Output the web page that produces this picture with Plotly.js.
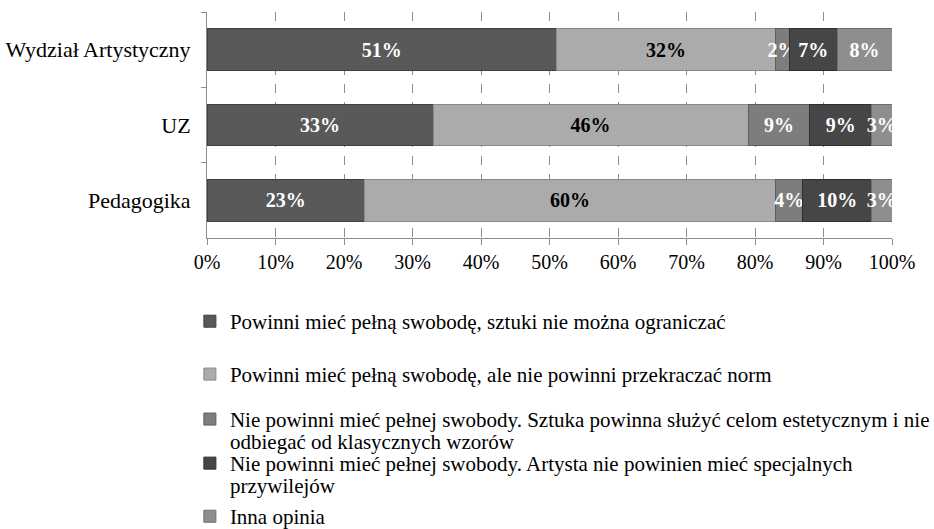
<!DOCTYPE html>
<html>
<head>
<meta charset="utf-8">
<script src="https://cdn.plot.ly/plotly-3.0.1.min.js"></script>
<style>html,body{margin:0;padding:0;background:#fff;}#chart{width:934px;height:529px;}</style>
</head>
<body>
<div id="chart"></div>
<script>
const categories = ["Wydział Artystyczny", "UZ", "Pedagogika"];
const seriesNames = [
  "Powinni mieć pełną swobodę, sztuki nie można ograniczać",
  "Powinni mieć pełną swobodę, ale nie powinni przekraczać norm",
  "Nie powinni mieć pełnej swobody. Sztuka powinna służyć celom estetycznym i nie",
  "Nie powinni mieć pełnej swobody. Artysta nie powinien mieć specjalnych",
  "Inna opinia"
];
// second lines of the wrapped legend entries (series 3 and 4)
const seriesNameContinuations = [null, null, "odbiegać od klasycznych wzorów", "przywilejów", null];
const s1 = [51, 33, 23];
const s2 = [32, 46, 60];
const s3 = [2, 9, 4];
const s4 = [7, 9, 10];
const s5 = [8, 3, 3];
const xTickVals = [0, 10, 20, 30, 40, 50, 60, 70, 80, 90, 100];
const xTickText = ["0%", "10%", "20%", "30%", "40%", "50%", "60%", "70%", "80%", "90%", "100%"];

const values = [s1, s2, s3, s4, s5];
const colors = ["#595959", "#ababab", "#7d7d7d", "#464646", "#8e8e8e"];
const lineColors = ["#3f3f3f", "#8a8a8a", "#5e5e5e", "#2e2e2e", "#6e6e6e"];
const textColors = ["#ffffff", "#000000", "#ffffff", "#ffffff", "#ffffff"];
const legendIds = ["legend", "legend2", "legend3", "legend4", "legend5"];
const legendY = [-0.279, -0.513, -0.712, -0.907, -1.142];
const contY = [null, null, -0.903, -1.097, null];

const font = "Liberation Serif";
const legendFontSize = 21;

const data = values.map((v, i) => ({
  type: "bar",
  orientation: "h",
  name: seriesNames[i],
  y: categories,
  x: v,
  marker: {color: colors[i], line: {color: lineColors[i], width: 1}},
  text: v.map(d => d + "%"),
  texttemplate: "%{text}",
  textposition: "inside",
  insidetextanchor: "middle",
  textangle: 0,
  constraintext: "none",
  cliponaxis: false,
  textfont: {family: font, size: 20, color: textColors[i], weight: "bold"},
  hoverinfo: "skip",
  legend: legendIds[i]
}));

const annotations = [];
seriesNameContinuations.forEach((t, i) => {
  if (!t) return;
  annotations.push({
    xref: "paper", yref: "paper",
    x: 0.031, y: contY[i],
    xanchor: "left", yanchor: "middle",
    text: t, showarrow: false,
    font: {family: font, size: legendFontSize, color: "#000"}
  });
});

const layout = {
  width: 934,
  height: 529,
  barmode: "stack",
  bargap: 0.45,
  margin: {l: 207, r: 42, t: 12, b: 291, autoexpand: false},
  paper_bgcolor: "#ffffff",
  plot_bgcolor: "#ffffff",
  font: {family: font, size: 19, color: "#000"},
  xaxis: {
    range: [0, 100],
    tickvals: xTickVals,
    ticktext: xTickText,
    showgrid: true,
    gridcolor: "#8c8c8c",
    griddash: "dash",
    gridwidth: 1,
    showline: true,
    linecolor: "#8c8c8c",
    linewidth: 1,
    ticks: "outside",
    ticklen: 6,
    tickcolor: "#8c8c8c",
    tickfont: {family: font, size: 20, color: "#000"},
    zeroline: false,
    fixedrange: true
  },
  yaxis: {
    type: "category",
    autorange: "reversed",
    showline: true,
    linecolor: "#8c8c8c",
    linewidth: 1,
    ticks: "outside",
    tickson: "boundaries",
    ticklen: 5,
    tickcolor: "#8c8c8c",
    showgrid: false,
    tickfont: {family: font, size: 22, color: "#000"},
    ticksuffix: "  ",
    fixedrange: true
  },
  annotations: annotations,
  showlegend: true
};
legendIds.forEach((id, i) => {
  layout[id] = {
    x: -0.025, xanchor: "left",
    y: legendY[i], yanchor: "top",
    font: {family: font, size: legendFontSize, color: "#000"},
    bgcolor: "rgba(0,0,0,0)",
    borderwidth: 0,
    itemwidth: 30
  };
});

Plotly.newPlot("chart", data, layout, {displayModeBar: false, staticPlot: true});
</script>
</body>
</html>
